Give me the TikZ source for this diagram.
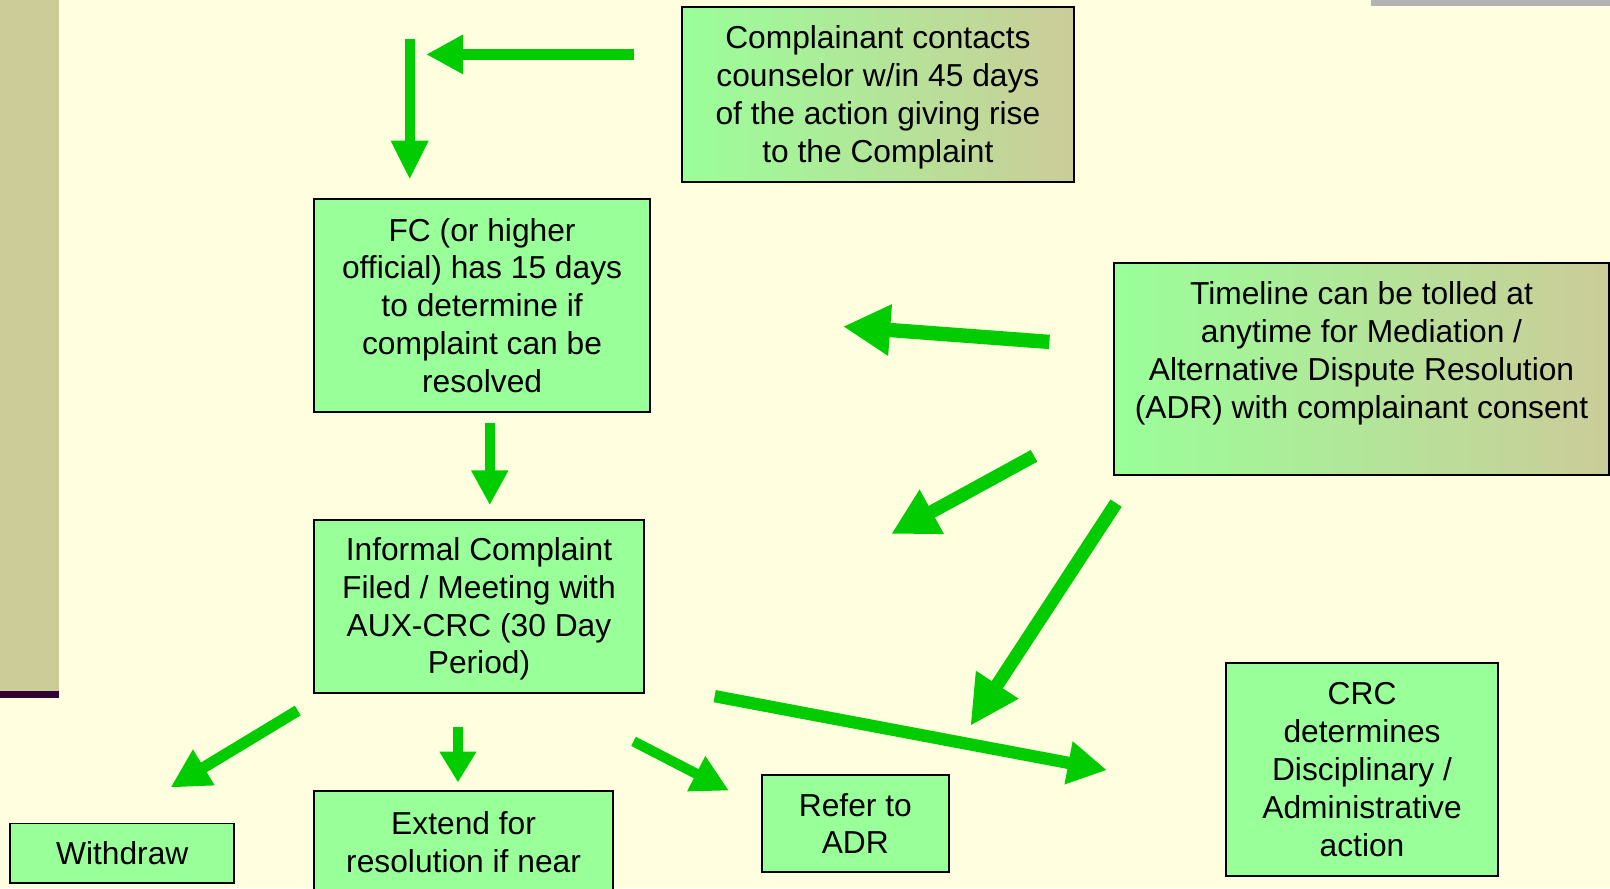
\documentclass[tikz,border=0pt]{standalone}
\usepackage{fontspec}
\setmainfont{Liberation Sans}
\usepackage{tikz}
\usetikzlibrary{arrows.meta}

\definecolor{pagebg}{RGB}{255,255,224}
\definecolor{boxgreen}{RGB}{153,255,153}
\definecolor{boxtan}{RGB}{204,204,153}
\definecolor{arrowgreen}{RGB}{0,204,0}
\definecolor{sidebar}{RGB}{204,204,153}
\definecolor{sideline}{RGB}{51,0,51}
\definecolor{topbar}{RGB}{178,178,178}

\begin{document}
\begin{tikzpicture}[x=0.02cm, y=-0.02cm,
  boxtext/.style={align=center, inner sep=0pt, font=\fontsize{17.6}{21}\selectfont},
  box/.style={boxtext, draw=black, line width=1.1pt, fill=boxgreen},
  shadebox/.style={boxtext, draw=black, line width=1.1pt, left color=boxgreen, middle color=boxgreen!80!boxtan, right color=boxtan},
  garrow/.style n args={3}{draw=arrowgreen, line width=#1, -{Triangle[width=#2, length=#3]}}]
\clip (0, 0) rectangle (1568, 865);
\fill[pagebg] (0, 0) rectangle (1568, 865);
\fill[sidebar] (0, 0) rectangle (57, 673);
\fill[sideline] (0, 673) rectangle (57, 680);
\fill[topbar] (1335, 0) rectangle (1568, 6);

\node[shadebox, minimum width=7.64cm, minimum height=3.4cm] (contact) at (855, 92) {};
\node[boxtext] (contacttext) at (855, 95) {Complainant contacts\\counselor w/in 45 days\\of the action giving rise\\to the Complaint};
\node[box, minimum width=6.54cm, minimum height=4.14cm] (fc) at (469.5, 297.5) {FC (or higher\\official) has 15 days\\to determine if\\complaint can be\\resolved};
\node[box, minimum width=6.42cm, minimum height=3.38cm] (informal) at (466.5, 590.5) {};
\node[boxtext] (informaltext) at (466.5, 593) {Informal Complaint\\Filed / Meeting with\\AUX-CRC (30 Day\\Period)};
\node[shadebox, minimum width=9.64cm, minimum height=4.14cm] (toll) at (1326, 359.5) {};
\node[boxtext] (tolltext) at (1326, 344) {Timeline can be tolled at\\anytime for Mediation /\\Alternative Dispute Resolution\\(ADR) with complainant consent};
\node[box, minimum width=4.36cm, minimum height=1.16cm] (withdraw) at (119, 831) {Withdraw};
\node[box, minimum width=5.82cm, minimum height=3cm] (extend) at (451.5, 845) {};
\node[boxtext] (extendtext) at (451.5, 820) {Extend for\\resolution if near};
\node[box, minimum width=3.64cm, minimum height=1.88cm] (adr) at (833, 802) {Refer to\\ADR};
\node[box, minimum width=5.3cm, minimum height=4.14cm] (crc) at (1326.5, 749.5) {CRC\\determines\\Disciplinary /\\Administrative\\action};

\coordinate (a1s) at (617, 53);
\coordinate (a1e) at (415, 53);
\coordinate (a2s) at (399, 38);
\coordinate (a2e) at (399, 175);
\coordinate (a3s) at (477, 412);
\coordinate (a3e) at (477, 492);
\coordinate (a4s) at (1022, 333);
\coordinate (a4e) at (821, 318);
\coordinate (a5s) at (1007, 444);
\coordinate (a5e) at (868, 520);
\coordinate (a6s) at (1087, 490);
\coordinate (a6e) at (945, 707);
\coordinate (a7s) at (696, 678);
\coordinate (a7e) at (1078, 750);
\coordinate (a8s) at (290, 692);
\coordinate (a8e) at (166, 767);
\coordinate (a9s) at (446, 708);
\coordinate (a9e) at (446, 762);
\coordinate (a10s) at (617, 722);
\coordinate (a10e) at (710, 770);

\draw[garrow={0.22cm}{0.72cm}{0.72cm}] (a1s) -- (a1e);
\draw[garrow={0.2cm}{0.68cm}{0.76cm}] (a2s) -- (a2e);
\draw[garrow={0.2cm}{0.68cm}{0.68cm}] (a3s) -- (a3e);
\draw[garrow={0.28cm}{0.94cm}{0.92cm}] (a4s) -- (a4e);
\draw[garrow={0.26cm}{0.92cm}{0.9cm}] (a5s) -- (a5e);
\draw[garrow={0.26cm}{0.92cm}{0.96cm}] (a6s) -- (a6e);
\draw[garrow={0.24cm}{0.8cm}{0.76cm}] (a7s) -- (a7e);
\draw[garrow={0.22cm}{0.76cm}{0.76cm}] (a8s) -- (a8e);
\draw[garrow={0.2cm}{0.68cm}{0.6cm}] (a9s) -- (a9e);
\draw[garrow={0.2cm}{0.72cm}{0.72cm}] (a10s) -- (a10e);
\end{tikzpicture}
\end{document}
